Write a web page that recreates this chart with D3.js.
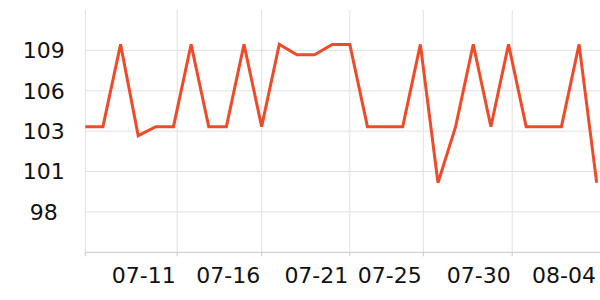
<!DOCTYPE html>
<html>
<head>
<meta charset="utf-8">
<script src="https://cdn.jsdelivr.net/npm/d3@7/dist/d3.min.js"></script>
<style>
  html, body { margin: 0; padding: 0; background: #fff; }
  svg { display: block; font-family: "DejaVu Sans", sans-serif; }
</style>
</head>
<body>
<svg id="chart" width="600" height="300"></svg>
<script>
// ---- data ----
const dates = [
  "2023-07-06","2023-07-07","2023-07-08","2023-07-09","2023-07-10",
  "2023-07-11","2023-07-12","2023-07-13","2023-07-14","2023-07-15",
  "2023-07-16","2023-07-17","2023-07-18","2023-07-19","2023-07-20",
  "2023-07-21","2023-07-22","2023-07-23","2023-07-24","2023-07-25",
  "2023-07-26","2023-07-27","2023-07-28","2023-07-29","2023-07-30",
  "2023-07-31","2023-08-01","2023-08-02","2023-08-03","2023-08-04"
];
const values = [
  103.7, 103.7, 109.2, 103.1, 103.7,
  103.7, 109.2, 103.7, 103.7, 109.2,
  103.7, 109.2, 108.5, 108.5, 109.2,
  109.2, 103.7, 103.7, 103.7, 109.2,
  99.95, 103.7, 109.2, 103.7, 109.2,
  103.7, 103.7, 103.7, 109.2, 99.95
];
const yDomain = [95.3, 111.5];
const yTicks = [98, 100.7, 103.4, 106.1, 108.8];
const xGridTicks = ["2023-07-06T00:00","2023-07-11T05:00","2023-07-16T00:00","2023-07-21T00:00","2023-07-25T04:00","2023-07-30T05:00"];
const xLabelTicks = ["2023-07-11T05:00","2023-07-16T00:00","2023-07-21T00:00","2023-07-25T04:00","2023-07-30T05:00","2023-08-04T01:00"];

// ---- layout ----
const svg = d3.select("#chart");
const mLeft = 85.3, mRight = 596.7, mTop = 10, mBottom = 252.3;
const parse = d3.isoParse;
const data = dates.map((d, i) => ({ date: parse(d + "T00:00"), value: values[i] }));

const x = d3.scaleTime()
  .domain(d3.extent(data, d => d.date))
  .range([mLeft, mRight]);
const y = d3.scaleLinear().domain(yDomain).range([mBottom, mTop]);

// horizontal gridlines
svg.append("g").selectAll("line").data(yTicks).join("line")
  .attr("x1", mLeft).attr("x2", 600)
  .attr("y1", d => y(d)).attr("y2", d => y(d))
  .attr("stroke", "#e0e0e0").attr("stroke-width", 1);

// vertical gridlines
svg.append("g").selectAll("line").data(xGridTicks.map(s => parse(s))).join("line")
  .attr("x1", d => x(d)).attr("x2", d => x(d))
  .attr("y1", mTop).attr("y2", mBottom)
  .attr("stroke", "#e0e0e0").attr("stroke-width", 1);

// x axis line + tick marks
svg.append("line")
  .attr("x1", mLeft).attr("x2", 600)
  .attr("y1", mBottom).attr("y2", mBottom)
  .attr("stroke", "#c8c8c8").attr("stroke-width", 1);
svg.append("g").selectAll("line").data(xGridTicks.map(s => parse(s))).join("line")
  .attr("x1", d => x(d)).attr("x2", d => x(d))
  .attr("y1", mBottom).attr("y2", mBottom + 4)
  .attr("stroke", "#c8c8c8").attr("stroke-width", 1);

// x labels (right-aligned to tick)
const fmtX = d3.timeFormat("%m-%d");
svg.append("g").selectAll("text").data(xLabelTicks.map(s => parse(s))).join("text")
  .attr("x", d => Math.min(x(d), 598) - 1.5)
  .attr("y", 283)
  .attr("text-anchor", "end")
  .attr("font-size", 22)
  .attr("fill", "#111")
  .text(d => fmtX(d));

// y labels
const fmtY = d3.format(".0f");
svg.append("g").selectAll("text").data(yTicks).join("text")
  .attr("x", 43.7)
  .attr("y", d => y(d))
  .attr("dy", "0.36em")
  .attr("text-anchor", "middle")
  .attr("font-size", 22)
  .attr("fill", "#111")
  .text(d => fmtY(d));

// line
const line = d3.line().x(d => x(d.date)).y(d => y(d.value));
svg.append("path").datum(data)
  .attr("d", line)
  .attr("fill", "none")
  .attr("stroke", "#ee4b2b")
  .attr("stroke-width", 3)
  .attr("stroke-linejoin", "miter");
</script>
</body>
</html>
